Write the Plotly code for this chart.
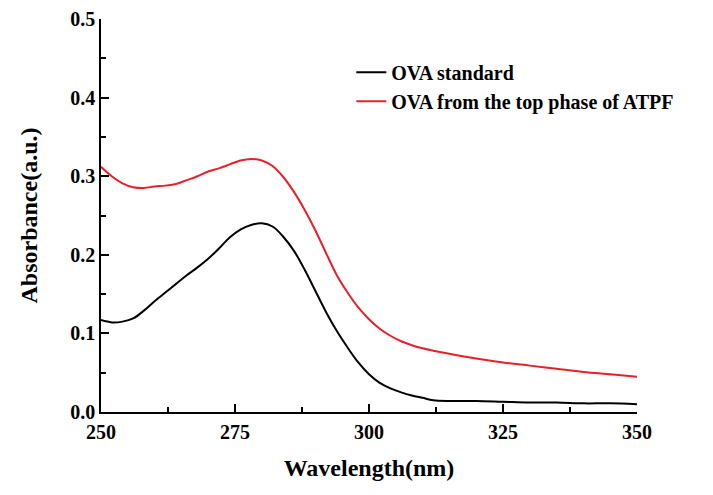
import plotly.graph_objects as go

wavelength = [250, 252, 254, 256, 258, 260, 262, 264, 266, 268, 270, 272, 274, 276, 278, 280,
              282, 284, 286, 288, 290, 292, 294, 296, 298, 300, 302, 304, 306, 308, 310, 312,
              315, 320, 325, 330, 335, 340, 345, 350]

ova_standard = [0.117, 0.114, 0.115, 0.119, 0.129, 0.141, 0.152, 0.163, 0.174, 0.184, 0.195,
                0.208, 0.222, 0.232, 0.238, 0.240, 0.236, 0.223, 0.205, 0.181, 0.154, 0.127,
                0.103, 0.082, 0.063, 0.048, 0.037, 0.030, 0.025, 0.021, 0.018, 0.015,
                0.014, 0.014, 0.013, 0.012, 0.012, 0.011, 0.011, 0.010]

ova_top_phase = [0.312, 0.300, 0.291, 0.286, 0.285, 0.287, 0.288, 0.290, 0.295, 0.300, 0.306,
                 0.310, 0.315, 0.320, 0.322, 0.320, 0.313, 0.299, 0.280, 0.257, 0.231, 0.202,
                 0.174, 0.152, 0.133, 0.118, 0.106, 0.097, 0.090, 0.085, 0.081, 0.078,
                 0.074, 0.068, 0.063, 0.059, 0.055, 0.051, 0.048, 0.045]

x_ticks = [250, 275, 300, 325, 350]
y_ticks = [0.0, 0.1, 0.2, 0.3, 0.4, 0.5]

FONT = "Liberation Serif"

fig = go.Figure()
fig.add_trace(go.Scatter(x=wavelength, y=ova_standard, mode="lines", name="OVA standard",
                         line=dict(color="black", width=2, shape="spline", smoothing=1.0),
                         legendgroup="a"))
fig.add_trace(go.Scatter(x=wavelength, y=ova_top_phase, mode="lines",
                         name="OVA from the top phase of ATPF",
                         line=dict(color="#e8202a", width=2, shape="spline", smoothing=1.0),
                         legendgroup="b"))

axis_common = dict(
    showline=True, linecolor="black", linewidth=1.5, mirror=False,
    showgrid=False, zeroline=False,
    ticks="inside", ticklen=8, tickwidth=1.5, tickcolor="black",
    tickfont=dict(family=FONT, size=20, color="black", weight="bold"),
    automargin=False,
)

fig.update_xaxes(range=[250, 350], tickvals=x_ticks, ticktext=[str(v) for v in x_ticks],
                 minor=dict(ticks="inside", ticklen=5, tickwidth=1.5, tickcolor="black",
                            tickvals=[262.5, 287.5, 312.5, 337.5]),
                 title=dict(text="<b>Wavelength(nm)</b>", font=dict(family=FONT, size=24, color="black"),
                            standoff=17),
                 ticklabelstandoff=1,
                 **axis_common)
fig.update_yaxes(range=[0, 0.5], tickvals=y_ticks, ticktext=[f"{v:.1f}" for v in y_ticks],
                 minor=dict(ticks="inside", ticklen=5, tickwidth=1.5, tickcolor="black",
                            tickvals=[0.05, 0.15, 0.25, 0.35, 0.45]),
                 title=dict(text="<b>Absorbance(a.u.)</b>", font=dict(family=FONT, size=24, color="black"),
                            standoff=26),
                 ticklabelstandoff=0,
                 **axis_common)

fig.update_layout(
    width=705, height=487,
    margin=dict(l=93, r=76, t=11, b=83),
    plot_bgcolor="white", paper_bgcolor="white",
    showlegend=True,
    legend=dict(x=0.467, y=0.914, xanchor="left", yanchor="top",
                font=dict(family=FONT, size=20, color="black", weight="bold"),
                bgcolor="rgba(0,0,0,0)", tracegroupgap=0, traceorder="grouped"),
)

fig.write_html("out.html")
